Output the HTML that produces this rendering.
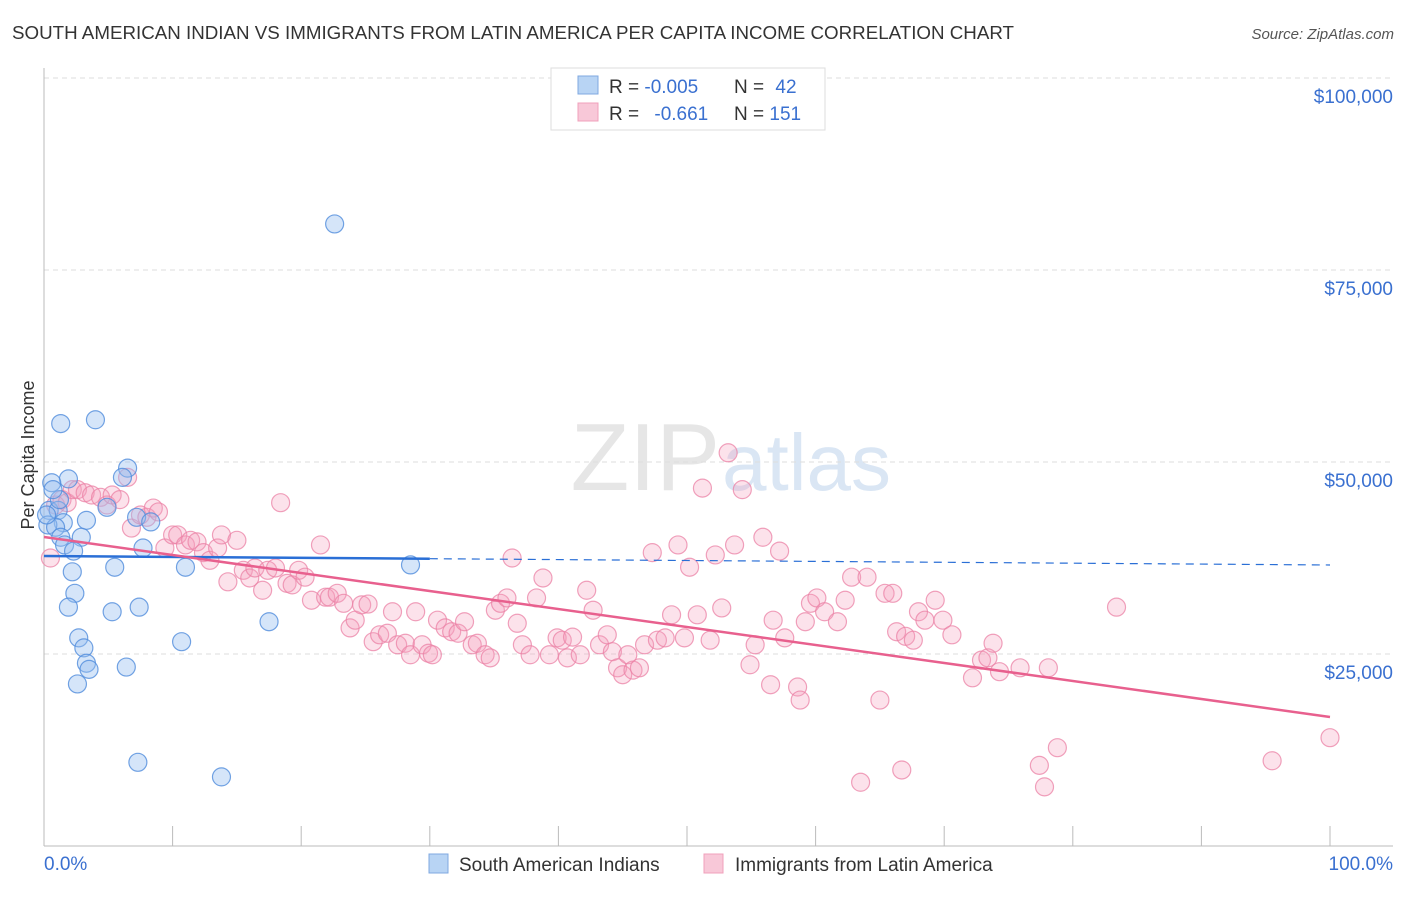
<!DOCTYPE html>
<html><head><meta charset="utf-8">
<style>
body{margin:0;background:#fff;font-family:"Liberation Sans",Arial,sans-serif;}
svg text{font-family:"Liberation Sans",Arial,sans-serif;}
</style></head>
<body>
<svg id="chart" width="1406" height="892" viewBox="0 0 1406 892">
<text x="12" y="39" font-size="18" fill="#333" textLength="1002" lengthAdjust="spacingAndGlyphs">SOUTH AMERICAN INDIAN VS IMMIGRANTS FROM LATIN AMERICA PER CAPITA INCOME CORRELATION CHART</text>
<text x="1394" y="39" font-size="15" fill="#555" text-anchor="end" font-style="italic">Source: ZipAtlas.com</text>
<text x="720" y="490" font-size="96" fill="#e6e6e6" text-anchor="end" font-family="Liberation Serif">ZIP</text>
<text x="722" y="490" font-size="80" fill="#dae6f4">atlas</text>
<g id="grid"></g>
<g id="axes"></g>
<g id="marks"></g>
<text transform="translate(34,455) rotate(-90)" font-size="18" fill="#333" text-anchor="middle">Per Capita Income</text>
<g>
<rect x="551" y="68" width="274" height="62" fill="#fff" stroke="#ddd"/>
<rect x="578" y="76" width="20" height="18" fill="#b8d4f4" stroke="#7fa8e0"/>
<rect x="578" y="103" width="20" height="18" fill="#f8c8d8" stroke="#f0a0bb"/>
<text x="609" y="93" font-size="19" fill="#333">R = <tspan fill="#3a70d0">-0.005</tspan></text>
<text x="734" y="93" font-size="19" fill="#333">N = <tspan fill="#3a70d0" dx="6">42</tspan></text>
<text x="609" y="120" font-size="19" fill="#333">R = <tspan fill="#3a70d0" dx="10">-0.661</tspan></text>
<text x="734" y="120" font-size="19" fill="#333">N = <tspan fill="#3a70d0">151</tspan></text>
</g>
<g>
<rect x="429" y="854" width="19" height="19" fill="#b8d4f4" stroke="#7fa8e0"/>
<text x="459" y="871" font-size="19" fill="#333">South American Indians</text>
<rect x="704" y="854" width="19" height="19" fill="#f8c8d8" stroke="#f0a0bb"/>
<text x="735" y="871" font-size="19" fill="#333">Immigrants from Latin America</text>
</g>
</svg>
<script>
const yTicks=[25000,50000,75000,100000];
const yTickLabels=["$25,000","$50,000","$75,000","$100,000"];
const xTickLabels=["0.0%","100.0%"];
const bluePct=[22.6,1.3,4.0,6.5,1.9,0.6,6.1,0.4,1.1,3.3,1.5,4.9,7.2,8.3,0.3,0.9,1.3,2.9,1.6,2.3,7.7,5.5,11.0,2.2,2.4,1.9,5.3,7.4,17.5,2.7,3.1,10.7,3.3,3.5,6.4,2.6,7.3,13.8,28.5,1.2,0.7,0.2];
const blueVal=[81.0,55.0,55.5,49.2,47.8,47.3,48.0,43.7,43.7,42.4,42.1,44.1,42.8,42.2,41.8,41.5,40.2,40.2,39.2,38.4,38.8,36.3,36.3,35.7,32.9,31.1,30.5,31.1,29.2,27.1,25.8,26.6,23.8,23.0,23.3,21.1,10.9,9.0,36.6,45.1,46.4,43.1];
const pinkPct=[0.5,0.9,1.4,1.8,2.2,2.6,3.2,3.7,4.4,4.9,5.3,5.9,6.5,6.8,7.5,8.0,8.5,8.9,9.4,10.0,10.4,11.0,11.4,11.9,12.4,12.9,13.5,13.8,14.3,15.0,15.5,16.0,16.4,17.0,17.4,18.0,18.4,18.9,19.3,19.8,20.3,20.8,21.5,21.9,22.2,22.8,23.3,23.8,24.2,24.7,25.2,25.6,26.1,26.7,27.1,27.5,28.1,28.5,28.9,29.4,29.9,30.2,30.6,31.2,31.7,32.2,32.7,33.3,33.7,34.3,34.7,35.1,35.5,36.0,36.4,36.8,37.2,37.8,38.3,38.8,39.3,39.9,40.3,40.7,41.1,41.7,42.2,42.7,43.2,43.8,44.2,44.6,45.0,45.4,45.8,46.3,46.7,47.3,47.7,48.3,48.8,49.3,49.8,50.2,50.8,51.2,51.8,52.2,52.7,53.2,53.7,54.3,54.9,55.3,55.9,56.5,56.7,57.2,57.6,58.6,58.8,59.2,59.6,60.1,60.7,61.7,62.3,62.8,63.5,64.0,65.0,65.4,66.0,66.3,67.0,67.6,68.0,68.5,69.3,69.9,70.6,72.2,72.9,73.4,73.8,74.3,75.9,77.4,77.8,78.1,78.8,83.4,95.5,100,66.7];
const pinkVal=[37.5,44.4,45.1,44.7,46.4,46.4,46.0,45.7,45.4,44.4,45.7,45.1,48.0,41.4,43.1,42.8,44.0,43.5,38.8,40.5,40.5,39.2,39.8,39.6,38.2,37.2,38.8,40.5,34.4,39.8,35.9,34.9,36.2,33.3,35.9,36.2,44.7,34.2,34.0,35.9,35.0,32.0,39.2,32.4,32.4,32.9,31.6,28.4,29.4,31.4,31.5,26.6,27.5,27.7,30.5,26.2,26.4,24.9,30.5,26.2,25.1,24.9,29.4,28.4,27.9,27.7,29.2,26.2,26.4,24.9,24.5,30.7,31.6,32.3,37.5,29.0,26.2,24.9,32.3,34.9,24.9,27.1,26.8,24.5,27.2,24.9,33.3,30.7,26.2,27.5,25.3,23.2,22.3,24.9,22.9,23.2,26.2,38.2,26.8,27.1,30.1,39.2,27.1,36.3,30.1,46.6,26.8,37.9,31.0,51.2,39.2,46.4,23.6,26.2,40.2,21.0,29.4,38.4,27.1,20.7,19.0,29.2,31.6,32.3,30.5,29.2,32.0,35.0,8.3,35.0,19.0,32.9,32.9,27.9,27.3,26.8,30.5,29.4,32.0,29.4,27.5,21.9,24.2,24.5,26.4,22.7,23.2,10.5,7.7,23.2,12.8,31.1,11.1,14.1,9.9];
const blueTrend=[37760,36590];
const pinkTrend=[40230,16800];

const NS="http://www.w3.org/2000/svg";
const X0=44,X1=1330,Y0=846,PXK=192/25000;
function sx(p){return X0+(X1-X0)*p/100;}
function sy(v){return Y0-v*PXK;}
function mk(tag,attrs,parent){const e=document.createElementNS(NS,tag);for(const k in attrs)e.setAttribute(k,attrs[k]);parent.appendChild(e);return e;}
const grid=document.getElementById('grid'),axes=document.getElementById('axes'),marks=document.getElementById('marks');
yTicks.forEach((t,i)=>{
  const l=mk('line',{x1:X0,x2:1393,y1:sy(t),y2:sy(t),stroke:'#ddd','stroke-dasharray':'5,4'},grid);
  
  
  const tx=mk('text',{x:1393,y:sy(t)+25,'font-size':19,fill:'#3a70d0','text-anchor':'end'},axes);
  tx.textContent=yTickLabels[i];
  
  
});
let a=mk('line',{x1:X0,x2:X0,y1:68,y2:846,stroke:'#bbb'},axes);


a=mk('line',{x1:X0,x2:1393,y1:846,y2:846,stroke:'#bbb'},axes);


for(let i=0;i<=10;i++){
  const t=mk('line',{x1:sx(i*10),x2:sx(i*10),y1:826,y2:846,stroke:'#bbb'},axes);
  
  
}
[[0,'start',44],[1,'end',1393]].forEach(([i,anc,x])=>{
  const t=mk('text',{x:x,y:870,'font-size':19,fill:'#3a70d0','text-anchor':anc},axes);
  t.textContent=xTickLabels[i];
  
  
});
pinkPct.forEach((p,i)=>{
  const c=mk('circle',{cx:sx(p),cy:sy(pinkVal[i]*1000),r:9,fill:'rgba(245,160,190,0.3)',stroke:'rgba(235,130,165,0.75)','stroke-width':1.2},marks);
  
  
});
bluePct.forEach((p,i)=>{
  const c=mk('circle',{cx:sx(p),cy:sy(blueVal[i]*1000),r:9,fill:'rgba(150,190,240,0.4)',stroke:'rgba(80,140,220,0.8)','stroke-width':1.2},marks);
  
  
});
function bv(p){return blueTrend[0]+(blueTrend[1]-blueTrend[0])*p/100;}
let l=mk('line',{x1:sx(0),x2:sx(30),y1:sy(bv(0)),y2:sy(bv(30)),stroke:'#2a6fd6','stroke-width':2.5},marks);


l=mk('line',{x1:sx(30),x2:sx(100),y1:sy(bv(30)),y2:sy(bv(100)),stroke:'#2a6fd6','stroke-width':1.2,'stroke-dasharray':'8,6'},marks);


l=mk('line',{x1:sx(0),x2:sx(100),y1:sy(pinkTrend[0]),y2:sy(pinkTrend[1]),stroke:'#e8608e','stroke-width':2.5},marks);


</script>
</body></html>
